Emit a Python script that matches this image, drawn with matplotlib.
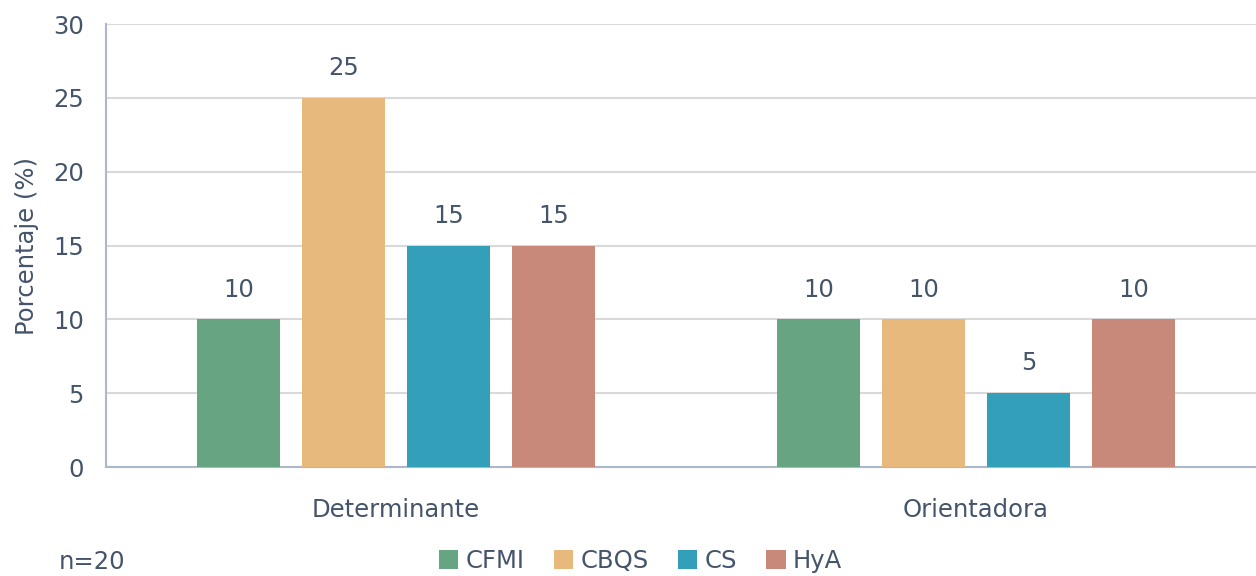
import matplotlib.pyplot as plt
import numpy as np

categories = ['Determinante', 'Orientadora']
series = ['CFMI', 'CBQS', 'CS', 'HyA']
values = {
    'CFMI': [10, 10],
    'CBQS': [25, 10],
    'CS': [15, 5],
    'HyA': [15, 10],
}
colors = ['#67A582', '#E8B97D', '#349FB8', '#C8897A']
text_color = '#44546A'
fs = 17.5

fig = plt.figure(figsize=(12.56, 5.76), dpi=100)
ax = fig.add_axes([0.0844, 0.1892, 0.9156, 0.7691])

x = np.arange(len(categories))
width = 0.142
step = 0.181
for i, name in enumerate(series):
    pos = x + (i - 1.5) * step
    bars = ax.bar(pos, values[name], width, color=colors[i], label=name, zorder=3)
    for b, v in zip(bars, values[name]):
        ax.text(b.get_x() + b.get_width() / 2, v + 1.2, str(v), ha='center', va='bottom',
                fontsize=fs, color=text_color)

ax.set_xlim(-0.5, 1.483)
ax.set_ylim(0, 30)
ax.set_yticks(range(0, 31, 5))
ax.yaxis.grid(True, color='#D9D9D9', linewidth=1.5, zorder=0)
ax.set_xticks(x)
ax.set_xticklabels(categories)
ax.tick_params(axis='both', length=0, labelsize=fs, labelcolor=text_color)
ax.tick_params(axis='x', pad=22)
ax.tick_params(axis='y', pad=16)
for s in ['top', 'right']:
    ax.spines[s].set_visible(False)
for s in ['left', 'bottom']:
    ax.spines[s].set_color('#ABB8CA')
    ax.spines[s].set_linewidth(1.5)
ax.set_ylabel('Porcentaje (%)', fontsize=fs, color=text_color, labelpad=10)

leg = fig.legend(loc='lower center', bbox_to_anchor=(0.51, -0.033), ncol=4, frameon=False,
                 fontsize=fs, handlelength=0.8, handleheight=0.8, handletextpad=0.3,
                 columnspacing=1.2)
for t in leg.get_texts():
    t.set_color(text_color)

fig.text(0.047, 0.004, 'n=20', fontsize=fs, color=text_color, va='bottom')

fig.savefig('out.png', dpi=100)
